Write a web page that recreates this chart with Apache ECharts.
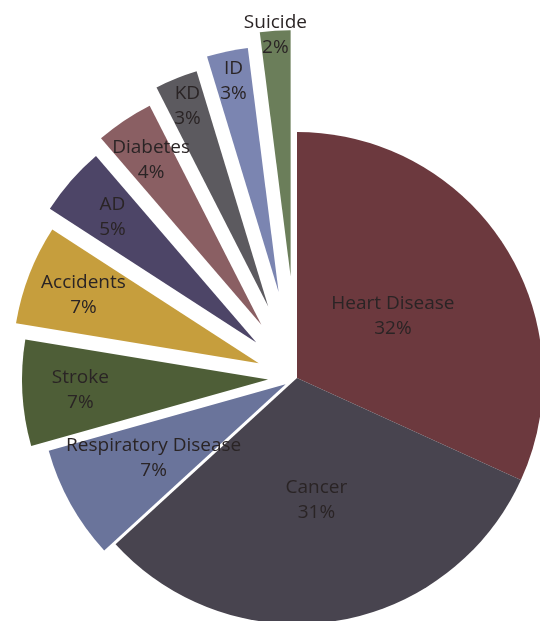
<!DOCTYPE html>
<html>
<head>
<meta charset="utf-8">
<script src="https://cdn.jsdelivr.net/npm/echarts@6/dist/echarts.min.js"></script>
<style>
  html, body { margin: 0; padding: 0; background: #fff; }
  #chart { width: 540px; height: 621px; }
</style>
</head>
<body>
<div id="chart"></div>
<script>
// ---- data (percent of deaths; labels show rounded values) ----
const categories = ['Heart Disease', 'Cancer', 'Respiratory Disease', 'Stroke', 'Accidents', 'AD', 'Diabetes', 'KD', 'ID', 'Suicide'];
const values = [31.8, 31.4, 7.45, 6.95, 6.55, 4.55, 3.8, 2.8, 2.7, 2.0];

// ---- styles ----
const colors = ['#6c393e', '#48444f', '#6a749b', '#4e5e37', '#c69e3d', '#4d4567', '#8a5f63', '#5c5a5f', '#7b85b1', '#6b7e5a'];
const offsets = [0, 0, 13, 29, 41, 54, 64, 77, 88, 102];
const labelDist = [114, 124, 151, 188, 188, 191, 198, 216, 216, 242];
const CENTER = [297, 378];
const R = 246;
const FONT = '"Open Sans", Lato, sans-serif';
const TEXT = '#2a2425';

const chart = echarts.init(document.getElementById('chart'), null, { renderer: 'canvas' });

function buildData(target, visible) {
  return categories.map((name, i) => {
    const on = i === target;
    return {
      name: name,
      value: values[i],
      selected: on && offsets[i] > 0,
      itemStyle: { color: (on && visible) ? colors[i] : 'rgba(0,0,0,0)', borderWidth: 0 },
      label: { show: on && !visible }
    };
  });
}

const series = [];
categories.forEach((name, i) => {
  // slice
  series.push({
    type: 'pie',
    center: CENTER,
    radius: [0, R],
    startAngle: 90,
    clockwise: true,
    selectedMode: 'single',
    selectedOffset: offsets[i],
    silent: true,
    animation: false,
    label: { show: false },
    labelLine: { show: false },
    emphasis: { disabled: true },
    select: { itemStyle: { borderWidth: 0 } },
    data: buildData(i, true)
  });
  // label carrier (transparent sector whose outer edge sits at the label's distance)
  series.push({
    type: 'pie',
    center: CENTER,
    radius: [0, labelDist[i]],
    startAngle: 90,
    clockwise: true,
    selectedMode: 'single',
    selectedOffset: offsets[i],
    silent: true,
    animation: false,
    avoidLabelOverlap: false,
    label: {
      show: true,
      position: 'outside',
      alignTo: 'none',
      distanceToLabelLine: 0,
      formatter: p => p.name + '\n' + Math.round(p.value) + '%',
      color: TEXT,
      fontFamily: FONT,
      fontSize: 19,
      lineHeight: 25,
      align: 'center',
      verticalAlign: 'middle'
    },
    labelLine: { show: false, length: 0, length2: 0 },
    labelLayout: { align: 'center', verticalAlign: 'middle', hideOverlap: false },
    emphasis: { disabled: true },
    select: { itemStyle: { borderWidth: 0, color: 'rgba(0,0,0,0)' }, label: { color: TEXT } },
    data: buildData(i, false)
  });
});

chart.setOption({
  backgroundColor: '#ffffff',
  animation: false,
  series: series
});
</script>
</body>
</html>
